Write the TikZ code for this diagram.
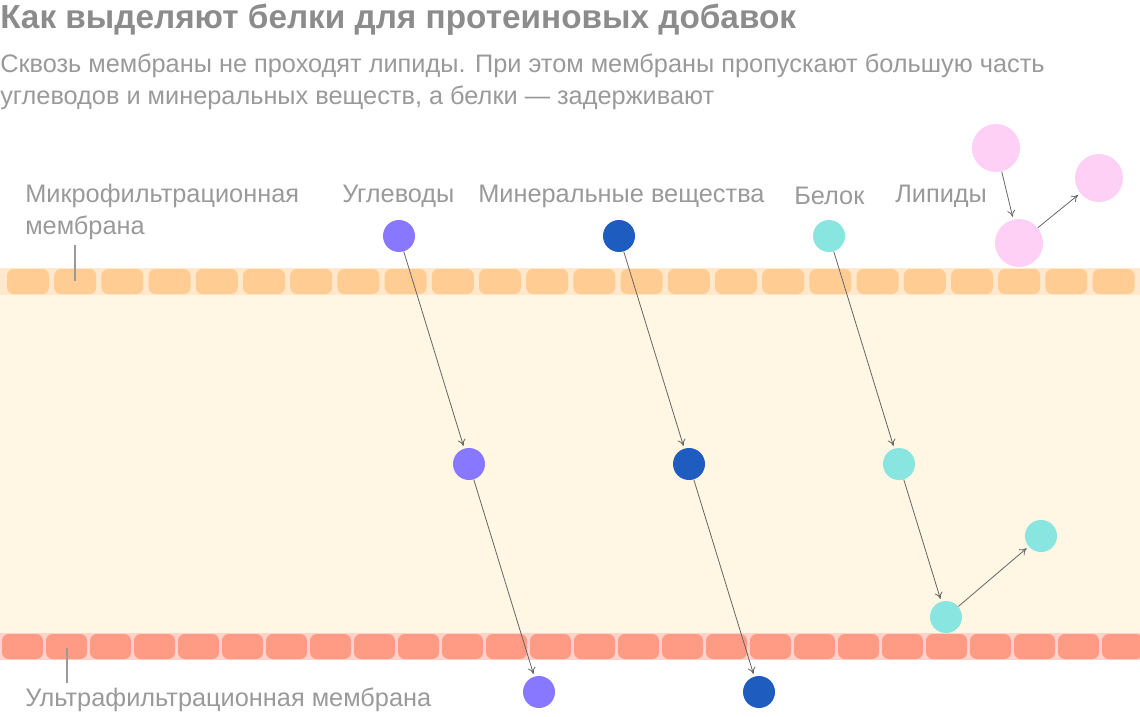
\documentclass[tikz,border=0pt]{standalone}
\usepackage{fontspec}
\setmainfont{Liberation Sans}
\usetikzlibrary{arrows.meta}
\definecolor{txtgray}{HTML}{9A9A9A}
\definecolor{ttlgray}{HTML}{8C8C8C}
\definecolor{creme}{HTML}{FFF6E3}
\definecolor{mfband}{HTML}{FFE8CC}
\definecolor{mfcell}{HTML}{FFCC94}
\definecolor{ufband}{HTML}{FFD3C9}
\definecolor{ufcell}{HTML}{FF9B85}
\definecolor{uglev}{HTML}{8877FF}
\definecolor{miner}{HTML}{1F5CC0}
\definecolor{belok}{HTML}{88E5E0}
\definecolor{lipid}{HTML}{FFD0F5}
\begin{document}
\begin{tikzpicture}[x=0.75pt, y=-0.75pt]
	\tikzset{molek/.style={circle, minimum size=24pt, inner sep=0pt},
	lipmol/.style={circle, fill=lipid, minimum size=36pt, inner sep=0pt},
	metka/.style={text=txtgray, font=\fontsize{19}{24}\selectfont, anchor=west},
	put/.style={draw=black!60, line width=0.6pt, -{To[length=5pt,width=6pt]}, shorten >=2pt}};
	\useasboundingbox (0,0) rectangle (1140,717);

	% membrany
	\fill[creme] (0,295) rectangle (1140,633);
	\fill[mfband] (0,268) rectangle (1140,295);
	\fill[ufband] (0,633) rectangle (1140,660);
	\foreach \i in {0,...,23}{
		\fill[mfcell, rounded corners=5pt] (7+47.2*\i,269) rectangle ++(42,25);
	}
	\foreach \i in {0,...,25}{
		\fill[ufcell, rounded corners=5pt] (2+44*\i,634) rectangle ++(41,25);
	}

	% teksty
	\node[anchor=west, inner sep=0pt, text=ttlgray, font=\bfseries\fontsize{25}{28}\selectfont] (zag) at (0,20) {Как выделяют белки для протеиновых добавок};
	\node[anchor=north west, inner sep=0pt, text=txtgray, align=left, font=\fontsize{19}{24}\selectfont] (podzag) at (0,54) {Сквозь мембраны не проходят липиды. При этом мембраны пропускают большую часть\\углеводов и минеральных веществ, а белки — задерживают};
	\node[anchor=north west, text=txtgray, align=left, inner sep=0pt, font=\fontsize{19}{24}\selectfont] (mikro) at (25,184) {Микрофильтрационная\\мембрана};
	\node[metka, inner sep=0pt] (ultra) at (25,700) {Ультрафильтрационная мембрана};
	\node[metka, inner sep=0pt] (l-ug) at (342,196) {Углеводы};
	\node[metka, inner sep=0pt] (l-min) at (478,196) {Минеральные вещества};
	\node[metka, inner sep=0pt] (l-bel) at (794,196) {Белок};
	\node[metka, inner sep=0pt] (l-lip) at (895,196) {Липиды};
	\coordinate (mf1) at (75,245); \coordinate (mf2) at (75,281);
	\coordinate (uf1) at (67,648); \coordinate (uf2) at (67,683);
	\draw[txtgray, line width=0.8pt] (mf1) -- (mf2);
	\draw[txtgray, line width=0.8pt] (uf1) -- (uf2);

	% molekuly
	\foreach \name/\x/\y/\col in {u1/399/236/uglev, u2/469/464/uglev, u3/539/692/uglev,
		m1/619/236/miner, m2/689/464/miner, m3/759/692/miner,
		b1/829/236/belok, b2/899/464/belok, b3/946/617/belok, b4/1041/536/belok}{
		\node[molek, fill=\col] (\name) at (\x,\y) {};
	}
	\node[lipmol] (p1) at (996,148) {};
	\node[lipmol] (p2) at (1019,243) {};
	\node[lipmol] (p3) at (1099,178) {};

	\draw[put] (u1) -- (u2);
	\draw[put] (u2) -- (u3);
	\draw[put] (m1) -- (m2);
	\draw[put] (m2) -- (m3);
	\draw[put] (b1) -- (b2);
	\draw[put] (b2) -- (b3);
	\draw[put] (b3) -- (b4);
	\draw[put] (p1) -- (p2);
	\draw[put] (p2) -- (p3);
\end{tikzpicture}
\end{document}
